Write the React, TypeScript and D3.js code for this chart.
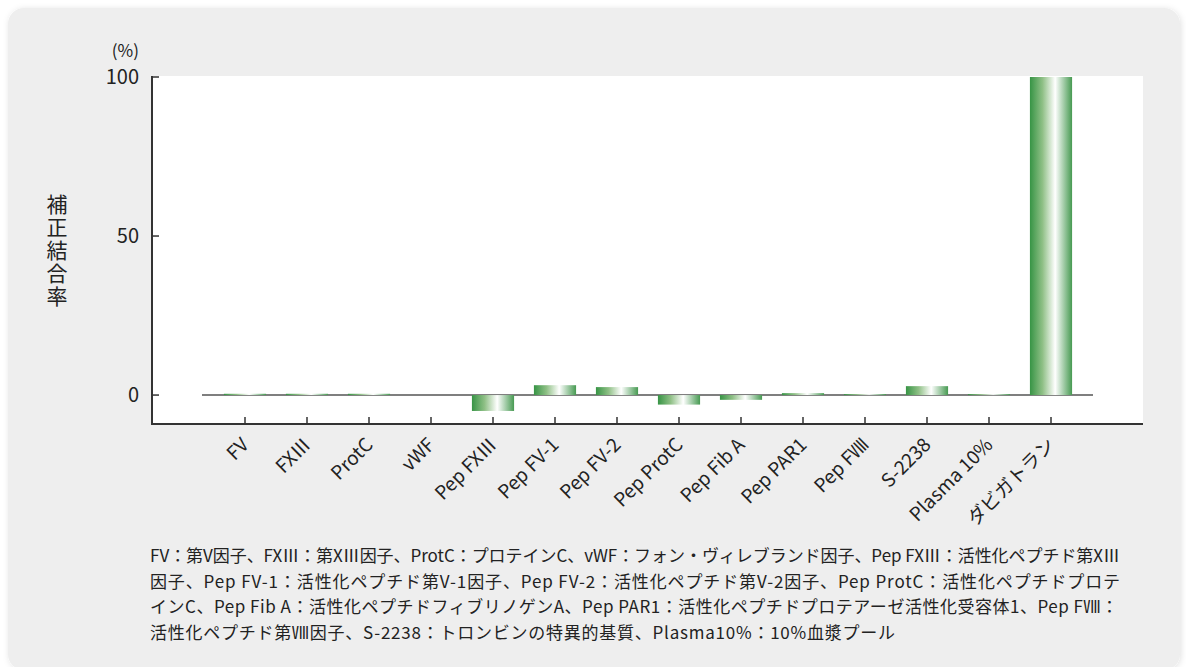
import React from "react";
import * as d3 from "d3";

const categories = [
  "FV", "FXⅢ", "ProtC", "vWF", "Pep FXⅢ", "Pep FV-1", "Pep FV-2",
  "Pep ProtC", "Pep Fib A", "Pep PAR1", "Pep FⅧ", "S-2238", "Plasma 10%", "ダビガトラン",
];
const values = [0.4, 0.4, 0.4, 0, -5.0, 3.1, 2.5, -3.0, -1.5, 0.6, 0.3, 2.8, 0.3, 100];
const yTicks = [0, 50, 100];
const yLabel = "補正結合率";
const footnote = [
  "FV：第V因子、FXⅢ：第XⅢ因子、ProtC：プロテインC、vWF：フォン・ヴィレブランド因子、Pep FXⅢ：活性化ペプチド第XⅢ",
  "因子、Pep FV-1：活性化ペプチド第V-1因子、Pep FV-2：活性化ペプチド第V-2因子、Pep ProtC：活性化ペプチドプロテ",
  "インC、Pep Fib A：活性化ペプチドフィブリノゲンA、Pep PAR1：活性化ペプチドプロテアーゼ活性化受容体1、Pep FⅧ：",
  "活性化ペプチド第Ⅷ因子、S-2238：トロンビンの特異的基質、Plasma10%：10%血漿プール",
];
const footnoteWidths = [970, 970, 968, 745];

const FONT = "'Noto Sans CJK JP', 'Noto Sans', sans-serif";

export default function App() {
  const W = 1186, H = 667;
  const plotL = 152, plotR = 1143, plotT = 76, plotB = 424;
  const y = d3.scaleLinear().domain([-9.1, 100]).range([424, 77]);
  const x = d3.scaleBand<string>().domain(categories).range([214, 1082]).paddingInner(0.32).paddingOuter(0.16);
  const bw = x.bandwidth();
  const y0 = y(0);

  return (
    <div style={{ position: "absolute", left: 0, top: 0 }}>
      <svg width={W} height={H} style={{ display: "block", fontFamily: FONT }}>
        <defs>
          <linearGradient id="barGrad" x1="0" x2="1" y1="0" y2="0">
            <stop offset="0" stopColor="#379445" />
            <stop offset="0.3" stopColor="#8fc086" />
            <stop offset="0.6" stopColor="#ffffff" />
            <stop offset="1" stopColor="#479a52" />
          </linearGradient>
          <filter id="shadow" x="-5%" y="-5%" width="110%" height="110%">
            <feDropShadow dx="1" dy="1" stdDeviation="3" floodColor="#000" floodOpacity="0.12" />
          </filter>
        </defs>
        <rect x={0} y={0} width={W} height={H} fill="#ffffff" />
        <rect x={8} y={8} width={1172} height={662} rx={16} fill="#eeeeee" filter="url(#shadow)" />
        <rect x={plotL} y={plotT} width={plotR - plotL} height={plotB - plotT} fill="#ffffff" />

        {/* zero line */}
        <line x1={202} x2={1093} y1={y0} y2={y0} stroke="#555" strokeWidth={1.5} />

        {/* bars */}
        {categories.map((c, i) => {
          const v = values[i];
          if (v === 0) return null;
          const top = Math.min(y(v), y0);
          const h = Math.abs(y(v) - y0);
          return <rect key={c} x={x(c)} y={top} width={bw} height={Math.max(h, 1)} fill="url(#barGrad)" />;
        })}

        {/* axes */}
        <line x1={plotL} x2={plotL} y1={plotT} y2={plotB + 1} stroke="#333" strokeWidth={2} />
        <line x1={plotL - 1} x2={plotR} y1={plotB} y2={plotB} stroke="#333" strokeWidth={2} />

        {yTicks.map((t) => (
          <g key={t}>
            <line x1={plotL} x2={plotL + 7} y1={y(t)} y2={y(t)} stroke="#333" strokeWidth={1.5} />
            <text x={139} y={y(t)} dy="0.35em" textAnchor="end" fontSize={20} fill="#222">{t}</text>
          </g>
        ))}
        <text x={139} y={57} textAnchor="end" fontSize={17} fill="#222">(%)</text>

        {categories.map((c) => {
          const cx = (x(c) as number) + bw / 2;
          return (
            <g key={"t" + c}>
              <line x1={cx} x2={cx} y1={plotB - 7} y2={plotB} stroke="#333" strokeWidth={1.5} />
              <text transform={`translate(${cx + 5},${plotB + 22}) rotate(-45)`} textAnchor="end" fontSize={19} fill="#222">{c}</text>
            </g>
          );
        })}

        <text x={57} y={194} fontSize={21} fill="#222" letterSpacing={2} style={{ writingMode: "vertical-rl" }}>{yLabel}</text>

        {footnote.map((line, i) => (
          <text key={i} x={150} y={562 + i * 25.5} fontSize={17} fill="#222" textLength={footnoteWidths[i]} lengthAdjust="spacing">{line}</text>
        ))}
      </svg>
    </div>
  );
}
